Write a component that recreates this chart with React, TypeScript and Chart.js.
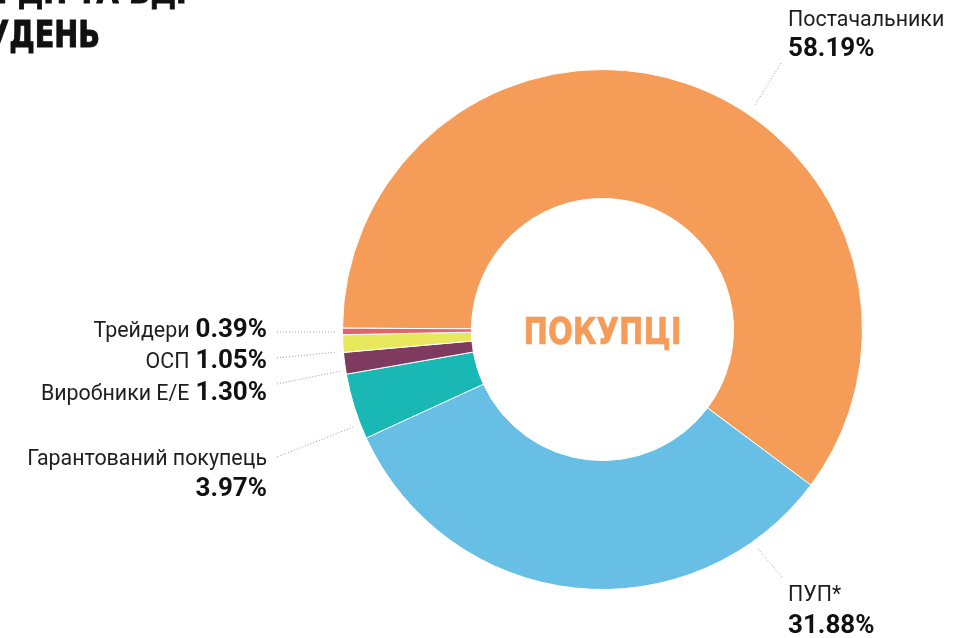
import React, { useEffect, useRef } from 'react';
import { Chart, registerables } from 'chart.js';

Chart.register(...registerables);

// ---- data ----
const categories = ['Постачальники', 'ПУП*', 'Гарантований покупець', 'Виробники Е/Е', 'ОСП', 'Трейдери'];
const shares = [58.19, 31.88, 3.97, 1.3, 1.05, 0.39];
const shareLabels = ['58.19%', '31.88%', '3.97%', '1.30%', '1.05%', '0.39%'];
const sliceColors = ['#F59C59', '#67BFE5', '#19B8B5', '#7E3B5F', '#E7E85B', '#E2636A'];
const centerLabel = 'ПОКУПЦІ';
const titleLines = ['НА РДН ТА ВДР', 'ЗА ГРУДЕНЬ'];

// ---- annotation layout (label placement, leader lines) ----
type LabelLayout = {
  mode: 'stackLeft' | 'stackRight' | 'inlineRight';
  x: number;
  labelY: number;
  valueY: number;
  leader: [number, number][];
};
const labelLayouts: LabelLayout[] = [
  { mode: 'stackLeft', x: 788, labelY: 26, valueY: 56, leader: [[781, 63], [755, 105]] },
  { mode: 'stackLeft', x: 788, labelY: 601, valueY: 633, leader: [[758, 549], [782, 577]] },
  { mode: 'stackRight', x: 267, labelY: 465, valueY: 496, leader: [[277, 457], [353, 427]] },
  { mode: 'inlineRight', x: 267, labelY: 400, valueY: 400, leader: [[277, 384], [341, 371]] },
  { mode: 'inlineRight', x: 267, labelY: 368, valueY: 368, leader: [[277, 358], [337, 352]] },
  { mode: 'inlineRight', x: 267, labelY: 337, valueY: 337, leader: [[277, 332], [337, 332]] },
];

const LABEL_FONT = '21.4px Roboto';
const VALUE_FONT = 'bold 26px Roboto';
const TITLE_FONT = 'bold 37px "DejaVu Sans Condensed"';
const CENTER_FONT = 'bold 37px "DejaVu Sans Condensed"';

const annotationPlugin = {
  id: 'annotations',
  afterDraw(chart: any) {
    const ctx: CanvasRenderingContext2D = chart.ctx;
    const arc = chart.getDatasetMeta(0).data[0];
    ctx.save();

    // center label
    ctx.font = CENTER_FONT;
    ctx.fillStyle = sliceColors[0];
    ctx.strokeStyle = sliceColors[0];
    ctx.lineWidth = 0.6;
    ctx.textAlign = 'center';
    ctx.textBaseline = 'alphabetic';
    ctx.fillText(centerLabel, arc.x, arc.y + 14, 158);
    ctx.strokeText(centerLabel, arc.x, arc.y + 14, 158);

    // title (cropped at top-left)
    ctx.font = TITLE_FONT;
    ctx.fillStyle = '#111';
    ctx.strokeStyle = '#111';
    ctx.lineWidth = 1;
    ctx.textAlign = 'right';
    titleLines.forEach((t, i) => {
      const x = i === 0 ? 197 : 100;
      const y = i === 0 ? 3 : 47;
      const mw = ctx.measureText(t).width * 0.86;
      ctx.fillText(t, x, y, mw);
      ctx.strokeText(t, x, y, mw);
    });

    // leaders
    ctx.strokeStyle = '#9a9a9a';
    ctx.lineWidth = 1;
    ctx.setLineDash([1, 2]);
    labelLayouts.forEach((l) => {
      ctx.beginPath();
      ctx.moveTo(l.leader[0][0], l.leader[0][1]);
      ctx.lineTo(l.leader[1][0], l.leader[1][1]);
      ctx.stroke();
    });
    ctx.setLineDash([]);

    // labels
    labelLayouts.forEach((l, i) => {
      if (l.mode === 'stackLeft' || l.mode === 'stackRight') {
        ctx.textAlign = l.mode === 'stackLeft' ? 'left' : 'right';
        ctx.font = LABEL_FONT;
        ctx.fillStyle = '#1e1e1e';
        ctx.fillText(categories[i], l.x, l.labelY);
        ctx.font = VALUE_FONT;
        ctx.fillStyle = '#111';
        ctx.fillText(shareLabels[i], l.x, l.valueY);
      } else {
        ctx.textAlign = 'right';
        ctx.font = VALUE_FONT;
        ctx.fillStyle = '#111';
        ctx.fillText(shareLabels[i], l.x, l.valueY);
        const w = ctx.measureText(shareLabels[i]).width;
        ctx.font = LABEL_FONT;
        ctx.fillStyle = '#1e1e1e';
        ctx.fillText(categories[i], l.x - w - 6, l.labelY);
      }
    });
    ctx.restore();
  },
};

export default function App() {
  const ref = useRef<HTMLCanvasElement | null>(null);
  useEffect(() => {
    if (!ref.current) return;
    const chart = new Chart(ref.current, {
      type: 'doughnut',
      data: {
        labels: categories,
        datasets: [
          {
            data: shares,
            backgroundColor: sliceColors,
            borderColor: '#ffffff',
            borderWidth: 1,
          },
        ],
      },
      options: {
        responsive: false,
        animation: false,
        rotation: 270.3,
        cutout: '50.4%',
        layout: { padding: { left: 342, right: 110, top: 69, bottom: 48 } },
        plugins: {
          legend: { display: false },
          tooltip: { enabled: false },
        },
      },
      plugins: [annotationPlugin],
    });
    return () => chart.destroy();
  }, []);
  return (
    <canvas
      ref={ref}
      width={973}
      height={638}
      style={{ position: 'absolute', left: 0, top: 0, width: 973, height: 638 }}
    />
  );
}
